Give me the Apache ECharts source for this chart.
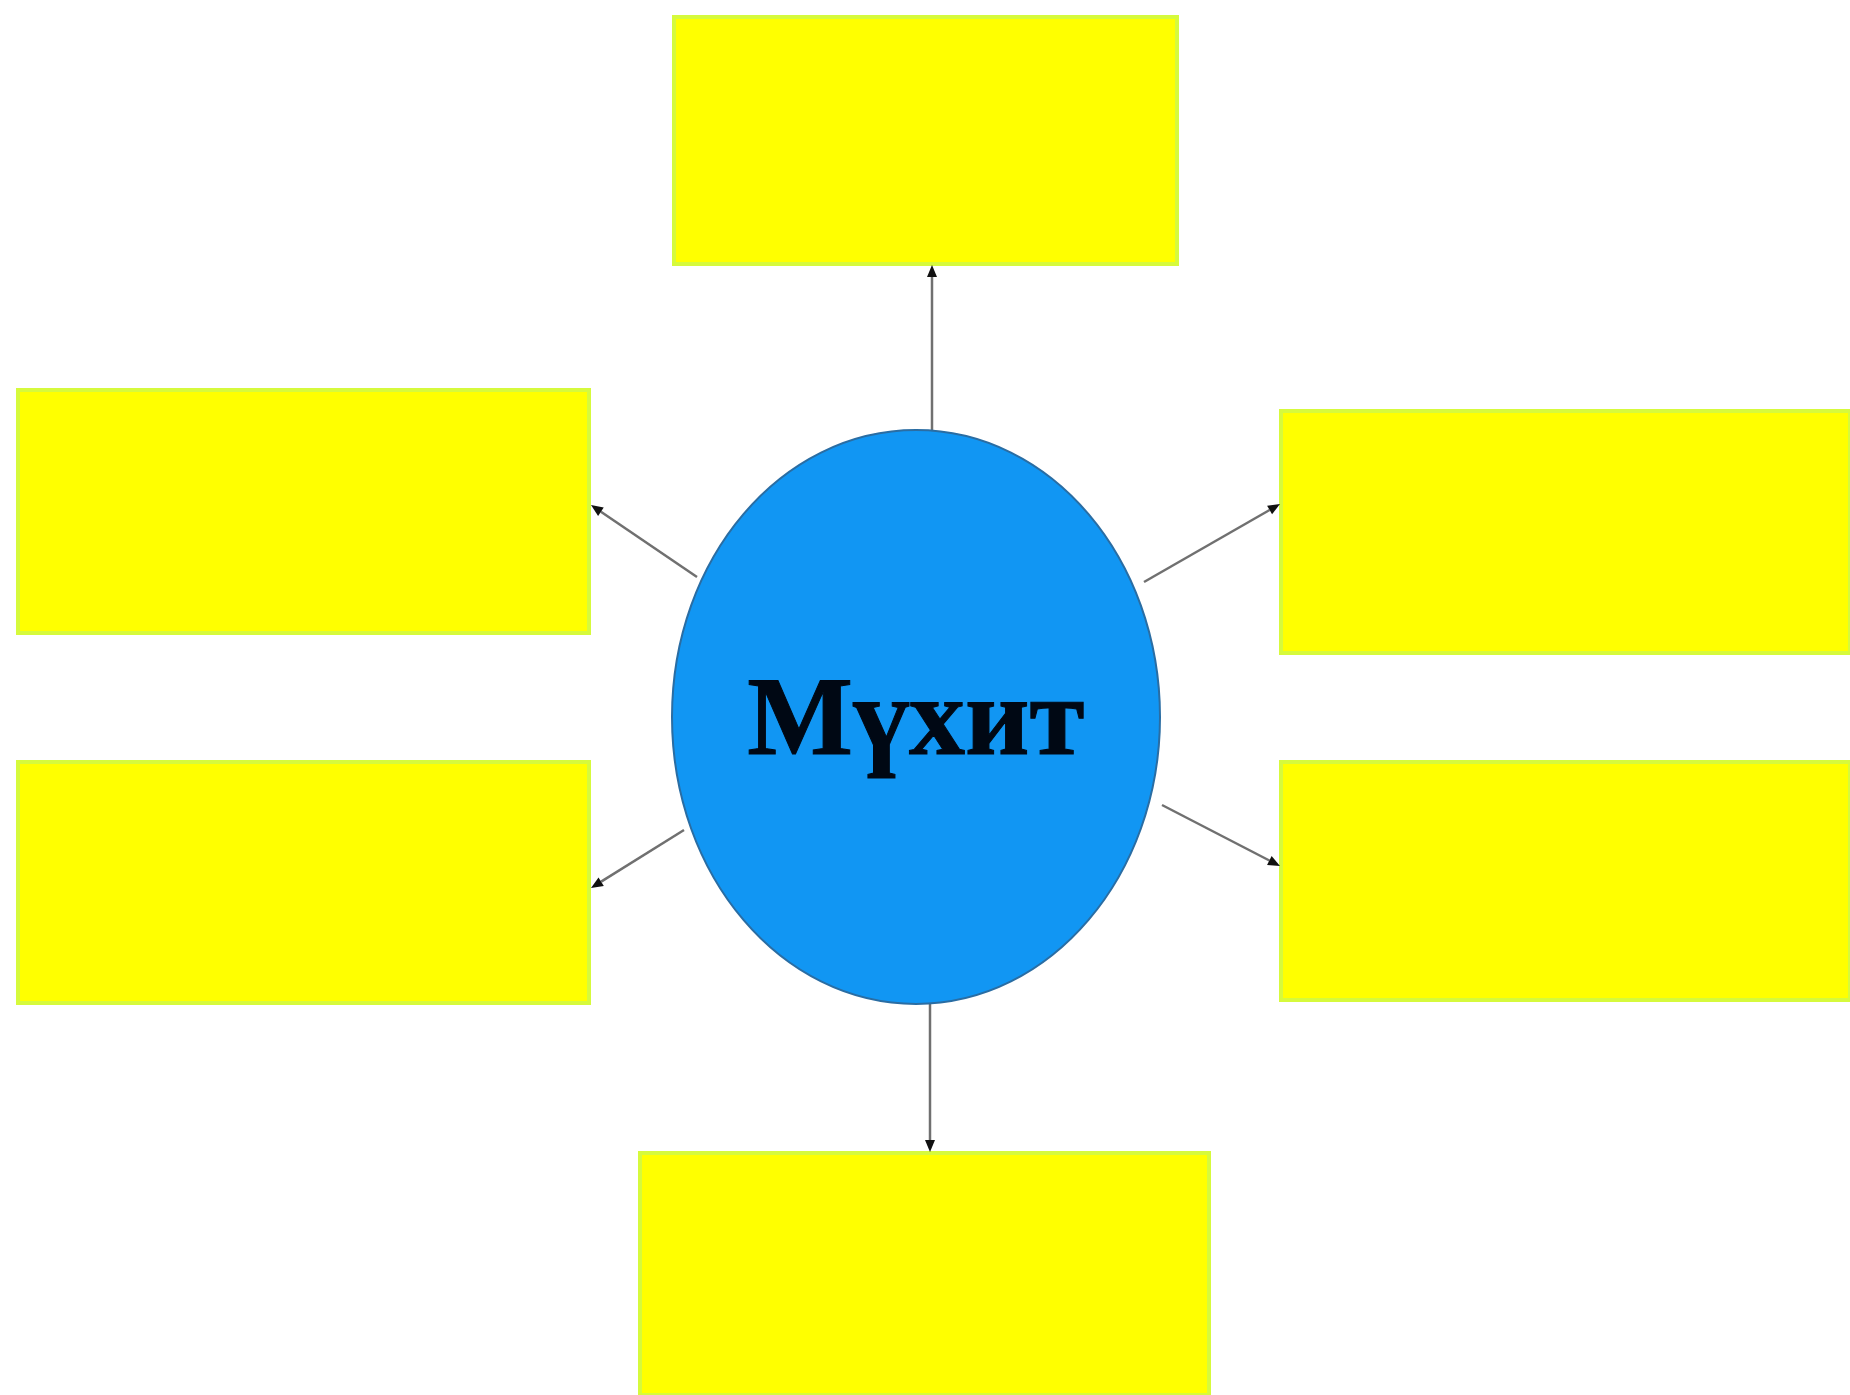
<!DOCTYPE html>
<html>
<head>
<meta charset="utf-8">
<script src="https://cdn.jsdelivr.net/npm/echarts@6/dist/echarts.min.js"></script>
<style>
  html, body { margin: 0; padding: 0; background: #fff; }
  #main { width: 1850px; height: 1395px; }
</style>
</head>
<body>
<div id="main"></div>
<script>
// boxes: left, right, top, bottom (diagram units = pixels of the reference)
const boxLeft = [674, 18, 18, 1281, 1281, 640];
const boxRight = [1177, 589, 589, 1850, 1850, 1209];
const boxTop = [17, 390, 762, 411, 762, 1153];
const boxBottom = [264, 633, 1003, 653, 1000, 1395];

// centre node
const hubName = ['Мүхит'];
const hubCenter = [[916, 717]];
const hubRadius = [[244, 287]];

// arrows from hub to boxes
const arrowFrom = [[932, 431], [697, 577], [684, 830], [1144, 582], [1162, 805], [930, 1004]];
const arrowTo = [[932, 265], [591, 505], [591, 888], [1280, 504], [1280, 866], [930, 1152]];

let chart = echarts.init(document.getElementById('main'));

let boxData = boxLeft.map(function (l, i) {
   return [l, boxRight[i], boxTop[i], boxBottom[i]];
});
let hubData = hubCenter.map(function (c, i) {
   return [c[0], c[1], hubRadius[i][0], hubRadius[i][1], hubName[i]];
});
let arrowData = arrowFrom.map(function (f, i) {
   return [f[0], f[1], arrowTo[i][0], arrowTo[i][1]];
});

let option = {
   animation: false,
   backgroundColor: '#ffffff',
   grid: { left: 0, right: 0, top: 0, bottom: 0 },
   xAxis: { type: 'value', min: 0, max: 1850, show: false },
   yAxis: { type: 'value', min: 0, max: 1395, inverse: true, show: false },
   series: [
      {
         type: 'custom',
         coordinateSystem: 'cartesian2d',
         data: boxData,
         renderItem: function (params, api) {
            let p0 = api.coord([api.value(0), api.value(2)]);
            let p1 = api.coord([api.value(1), api.value(3)]);
            return {
               type: 'rect',
               shape: { x: p0[0], y: p0[1], width: p1[0] - p0[0], height: p1[1] - p0[1] },
               style: { fill: '#ffff00', stroke: '#d6fa3c', lineWidth: 4 }
            };
         }
      },
      {
         type: 'custom',
         coordinateSystem: 'cartesian2d',
         data: arrowData,
         z: 3,
         renderItem: function (params, api) {
            let a = api.coord([api.value(0), api.value(1)]);
            let b = api.coord([api.value(2), api.value(3)]);
            let dx = b[0] - a[0], dy = b[1] - a[1];
            let len = Math.sqrt(dx * dx + dy * dy);
            let ux = dx / len, uy = dy / len;
            let hl = 12, hw = 5;
            let bx = b[0] - ux * hl, by = b[1] - uy * hl;
            return {
               type: 'group',
               children: [
                  {
                     type: 'line',
                     shape: { x1: a[0], y1: a[1], x2: bx, y2: by },
                     style: { stroke: '#707070', lineWidth: 2.5 }
                  },
                  {
                     type: 'polygon',
                     shape: {
                        points: [
                           [b[0], b[1]],
                           [bx - uy * hw, by + ux * hw],
                           [bx + uy * hw, by - ux * hw]
                        ]
                     },
                     style: { fill: '#111' }
                  }
               ]
            };
         }
      },
      {
         type: 'custom',
         coordinateSystem: 'cartesian2d',
         data: hubData,
         z: 4,
         renderItem: function (params, api) {
            let c = api.coord([api.value(0), api.value(1)]);
            let e = api.coord([api.value(0) + api.value(2), api.value(1) + api.value(3)]);
            return {
               type: 'ellipse',
               shape: { cx: c[0], cy: c[1], rx: e[0] - c[0], ry: e[1] - c[1] },
               style: { fill: '#1196f3', stroke: '#2a6da3', lineWidth: 2 },
               textContent: {
                  style: {
                     text: api.value(4),
                     fill: '#000814',
                     stroke: '#000814',
                     lineWidth: 1,
                     font: 'bold 112px "Liberation Serif", "DejaVu Serif", serif'
                  }
               },
               textConfig: { position: 'inside', offset: [0, 8] }
            };
         }
      }
   ]
};

chart.setOption(option);
</script>
</body>
</html>
